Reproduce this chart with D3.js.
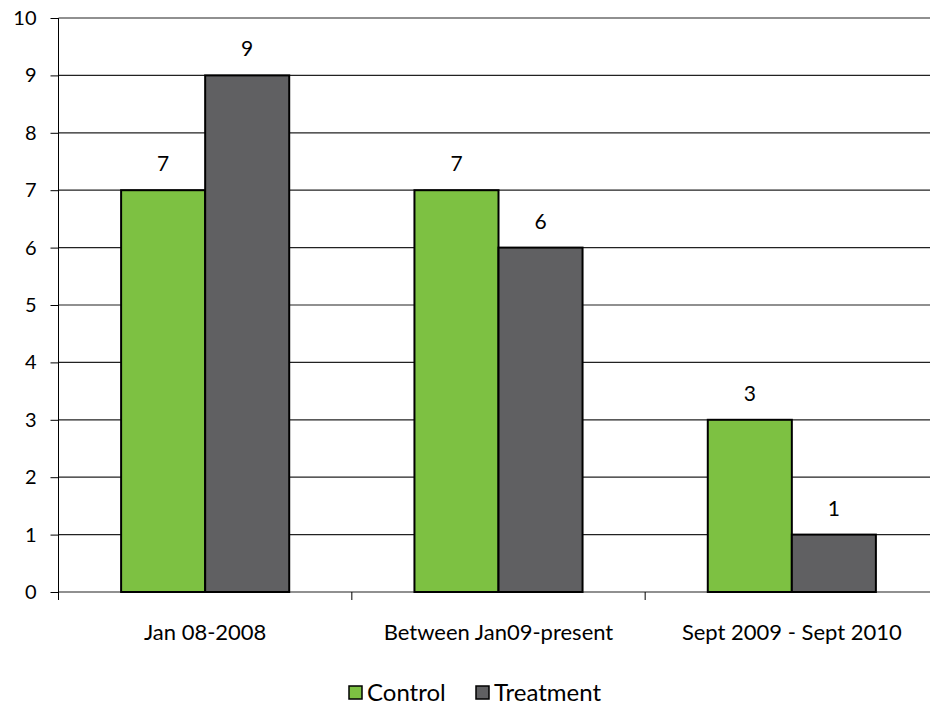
<!DOCTYPE html>
<html>
<head>
<meta charset="utf-8">
<script src="https://cdn.jsdelivr.net/npm/d3@7"></script>
<style>
  body { margin: 0; background: #fff; }
  text { font-family: "Lato", "DejaVu Sans", sans-serif; fill: #000; }
</style>
</head>
<body>
<svg id="chart" width="930" height="708"></svg>
<script>
const categories = ["Jan 08-2008", "Between Jan09-present", "Sept 2009 - Sept 2010"];
const seriesNames = ["Control", "Treatment"];
const controlValues = [7, 7, 3];
const treatmentValues = [9, 6, 1];
const yTicks = [0, 1, 2, 3, 4, 5, 6, 7, 8, 9, 10];
const colors = ["#7DC142", "#606062"];

const svg = d3.select("#chart");
const plotLeft = 58.5, plotRight = 938.5, plotTop = 18, plotBottom = 592;

const x0 = d3.scaleBand().domain(categories).range([plotLeft, plotRight]).paddingInner(0).paddingOuter(0);
const x1 = d3.scaleBand().domain(seriesNames).range([0, x0.bandwidth()]).paddingInner(0).paddingOuter(0.745);
const y = d3.scaleLinear().domain([0, 10]).range([plotBottom, plotTop]);

// horizontal gridlines
svg.append("g").selectAll("line").data(yTicks).join("line")
  .attr("x1", plotLeft).attr("x2", plotRight)
  .attr("y1", d => y(d)).attr("y2", d => y(d))
  .attr("stroke", "#222").attr("stroke-width", 1.2);

// y axis
const yAxis = svg.append("g").attr("transform", `translate(${plotLeft},0)`)
  .call(d3.axisLeft(y).tickValues(yTicks).tickSize(8).tickPadding(14).tickFormat(d3.format("d")));
yAxis.select(".domain").attr("d", `M0,${plotTop}V${plotBottom + 8}`).attr("stroke", "#000");
yAxis.selectAll(".tick line").attr("stroke", "#000");
yAxis.selectAll("text").attr("font-size", 20).attr("font-family", "Lato, sans-serif").attr("fill", "#000");

// x axis with category boundary ticks
const xAxis = svg.append("g").attr("transform", `translate(0,${plotBottom})`);
xAxis.selectAll("line").data(categories.slice(1)).join("line")
  .attr("x1", d => x0(d)).attr("x2", d => x0(d))
  .attr("y1", 0).attr("y2", 8).attr("stroke", "#000");
xAxis.selectAll("text").data(categories).join("text")
  .attr("x", d => x0(d) + x0.bandwidth() / 2)
  .attr("y", 48)
  .attr("text-anchor", "middle")
  .attr("font-size", 22)
  .text(d => d);

// bars
const rows = categories.map((c, i) => ({ cat: c, vals: [controlValues[i], treatmentValues[i]] }));
const groups = svg.append("g").selectAll("g").data(rows).join("g")
  .attr("transform", d => `translate(${x0(d.cat)},0)`);

groups.selectAll("rect").data(d => d.vals.map((v, j) => ({ name: seriesNames[j], v, j }))).join("rect")
  .attr("x", d => x1(d.name))
  .attr("width", x1.bandwidth())
  .attr("y", d => y(d.v))
  .attr("height", d => y(0) - y(d.v))
  .attr("fill", d => colors[d.j])
  .attr("stroke", "#000").attr("stroke-width", 2);

groups.selectAll("text.val").data(d => d.vals.map((v, j) => ({ name: seriesNames[j], v }))).join("text")
  .attr("class", "val")
  .attr("x", d => x1(d.name) + x1.bandwidth() / 2)
  .attr("y", d => y(d.v) - 19)
  .attr("text-anchor", "middle")
  .attr("font-size", 21)
  .text(d => d.v);

// legend
const legendItems = [
  { name: "Control", x: 349, c: colors[0] },
  { name: "Treatment", x: 476, c: colors[1] }
];
const legend = svg.append("g");
legend.selectAll("rect").data(legendItems).join("rect")
  .attr("x", d => d.x).attr("y", 686).attr("width", 13).attr("height", 13)
  .attr("fill", d => d.c).attr("stroke", "#000").attr("stroke-width", 1.5);
legend.selectAll("text").data(legendItems).join("text")
  .attr("x", d => d.x + 18).attr("y", 701)
  .attr("font-size", 24)
  .text(d => d.name);
</script>
</body>
</html>
